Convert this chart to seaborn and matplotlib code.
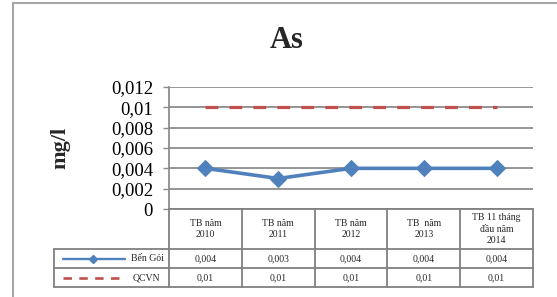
import matplotlib
matplotlib.use('Agg')
import matplotlib.pyplot as plt
import seaborn as sns
import pandas as pd
from matplotlib.lines import Line2D
from matplotlib import transforms
from matplotlib.ticker import FuncFormatter

categories = ["TB năm\n2010", "TB năm\n2011", "TB năm\n2012", "TB  năm\n2013", "TB 11 tháng\nđầu năm\n2014"]
ben_goi = [0.004, 0.003, 0.004, 0.004, 0.004]
qcvn = [0.01, 0.01, 0.01, 0.01, 0.01]
series_names = ["Bến Gói", "QCVN"]
y_ticks = [0, 0.002, 0.004, 0.006, 0.008, 0.01, 0.012]
title = "As"
y_label = "mg/l"

sns.set_theme(style='white')
plt.rcParams['font.family'] = ['Liberation Serif', 'DejaVu Serif']

W, H = 557, 297
fig = plt.figure(figsize=(W / 100, H / 100), dpi=100)
fig.patch.set_facecolor('white')


def fx(px):
    return px / W


def fy(py):
    return 1 - py / H


L, R, T, B = 169, 533, 87, 209
ax = fig.add_axes([fx(L), fy(B), fx(R) - fx(L), fy(T) - fy(B)])
ax.set_facecolor('none')

blue = '#4F81BD'
red = '#C0504D'
grid_c = '#8c8c8c'

pos = list(range(len(categories)))
df = pd.DataFrame({'pos': pos, 'ben': ben_goi, 'qcvn': qcvn})
sns.lineplot(data=df, x='pos', y='ben', ax=ax, color=blue, lw=2.6, marker='D',
             markersize=8.5, markeredgecolor=blue, zorder=4)
sns.lineplot(data=df, x='pos', y='qcvn', ax=ax, color=red, lw=2.3, zorder=3)
ax.lines[-1].set_dashes((4, 3.5))
ax.lines[-1].set_dash_capstyle('butt')

ax.set_xlim(-0.5, len(categories) - 0.5)
ax.set_ylim(0, max(y_ticks))
ax.set_yticks(y_ticks)
ax.yaxis.set_major_formatter(FuncFormatter(lambda v, p: ('%g' % round(v, 4)).replace('.', ',')))
ax.set_xticks([])
ax.set_xlabel('')
ax.set_ylabel('')
ax.yaxis.grid(True, color=grid_c, lw=1.3)
ax.set_axisbelow(True)
for s in ['top', 'right', 'bottom']:
    ax.spines[s].set_visible(False)
ax.spines['left'].set_color(grid_c)
ax.spines['left'].set_linewidth(1.3)
ax.tick_params(axis='y', left=True, length=4.5, width=1, color=grid_c, pad=7,
               labelsize=13.5, labelcolor='black')

fig.text(fx(287), fy(41), title, fontsize=22, fontweight='bold', ha='center', va='center')
fig.text(fx(60), fy(148), y_label, fontsize=16, fontweight='bold', rotation=90,
         ha='center', va='center')

# Frame
frame_c = '#a6a6a6'
fig.add_artist(Line2D([fx(13.5), fx(13.5)], [fy(3), fy(297)], color=frame_c, lw=1.5))
fig.add_artist(Line2D([fx(13.5), fx(557)], [fy(3), fy(3)], color=frame_c, lw=1.5))

# Data table
tc = '#808080'
tlw = 1.3
bt = transforms.blended_transform_factory(ax.transData, fig.transFigure)
y_head_top, y_head_bot, y_r1, y_r2 = 209, 249, 268, 287
leg_left = 54
n = len(categories)
fig.add_artist(Line2D([fx(L), fx(R)], [fy(y_head_top)] * 2, color=tc, lw=tlw))
for yy in [y_head_bot, y_r1, y_r2]:
    fig.add_artist(Line2D([fx(leg_left), fx(R)], [fy(yy)] * 2, color=tc, lw=tlw))
for b in range(n + 1):
    fig.add_artist(Line2D([b - 0.5, b - 0.5], [fy(y_head_top), fy(y_r2)], color=tc, lw=tlw,
                          transform=bt))
fig.add_artist(Line2D([fx(leg_left)] * 2, [fy(y_head_bot), fy(y_r2)], color=tc, lw=tlw))

fmt = lambda v: ('%g' % v).replace('.', ',')
for i, c in enumerate(categories):
    fig.text(i, fy((y_head_top + y_head_bot) / 2), c, transform=bt, ha='center', va='center',
             fontsize=7, linespacing=1.3)
    fig.text(i, fy((y_head_bot + y_r1) / 2), fmt(ben_goi[i]), transform=bt, ha='center',
             va='center', fontsize=7)
    fig.text(i, fy((y_r1 + y_r2) / 2), fmt(qcvn[i]), transform=bt, ha='center',
             va='center', fontsize=7)

# legend keys
yc1 = fy((y_head_bot + y_r1) / 2)
yc2 = fy((y_r1 + y_r2) / 2)
fig.add_artist(Line2D([fx(63), fx(125)], [yc1, yc1], color=blue, lw=1.7))
fig.add_artist(Line2D([fx(93)], [yc1], color=blue, marker='D', markersize=4.5, lw=0))
fig.add_artist(Line2D([fx(63), fx(121)], [yc2, yc2], color=red, lw=1.9, dashes=(3.2, 2.8),
                      dash_capstyle='butt'))
fig.text(fx(131), yc1, series_names[0], ha='left', va='center', fontsize=7)
fig.text(fx(133), yc2, series_names[1], ha='left', va='center', fontsize=7)

fig.savefig('out.png', dpi=100)
